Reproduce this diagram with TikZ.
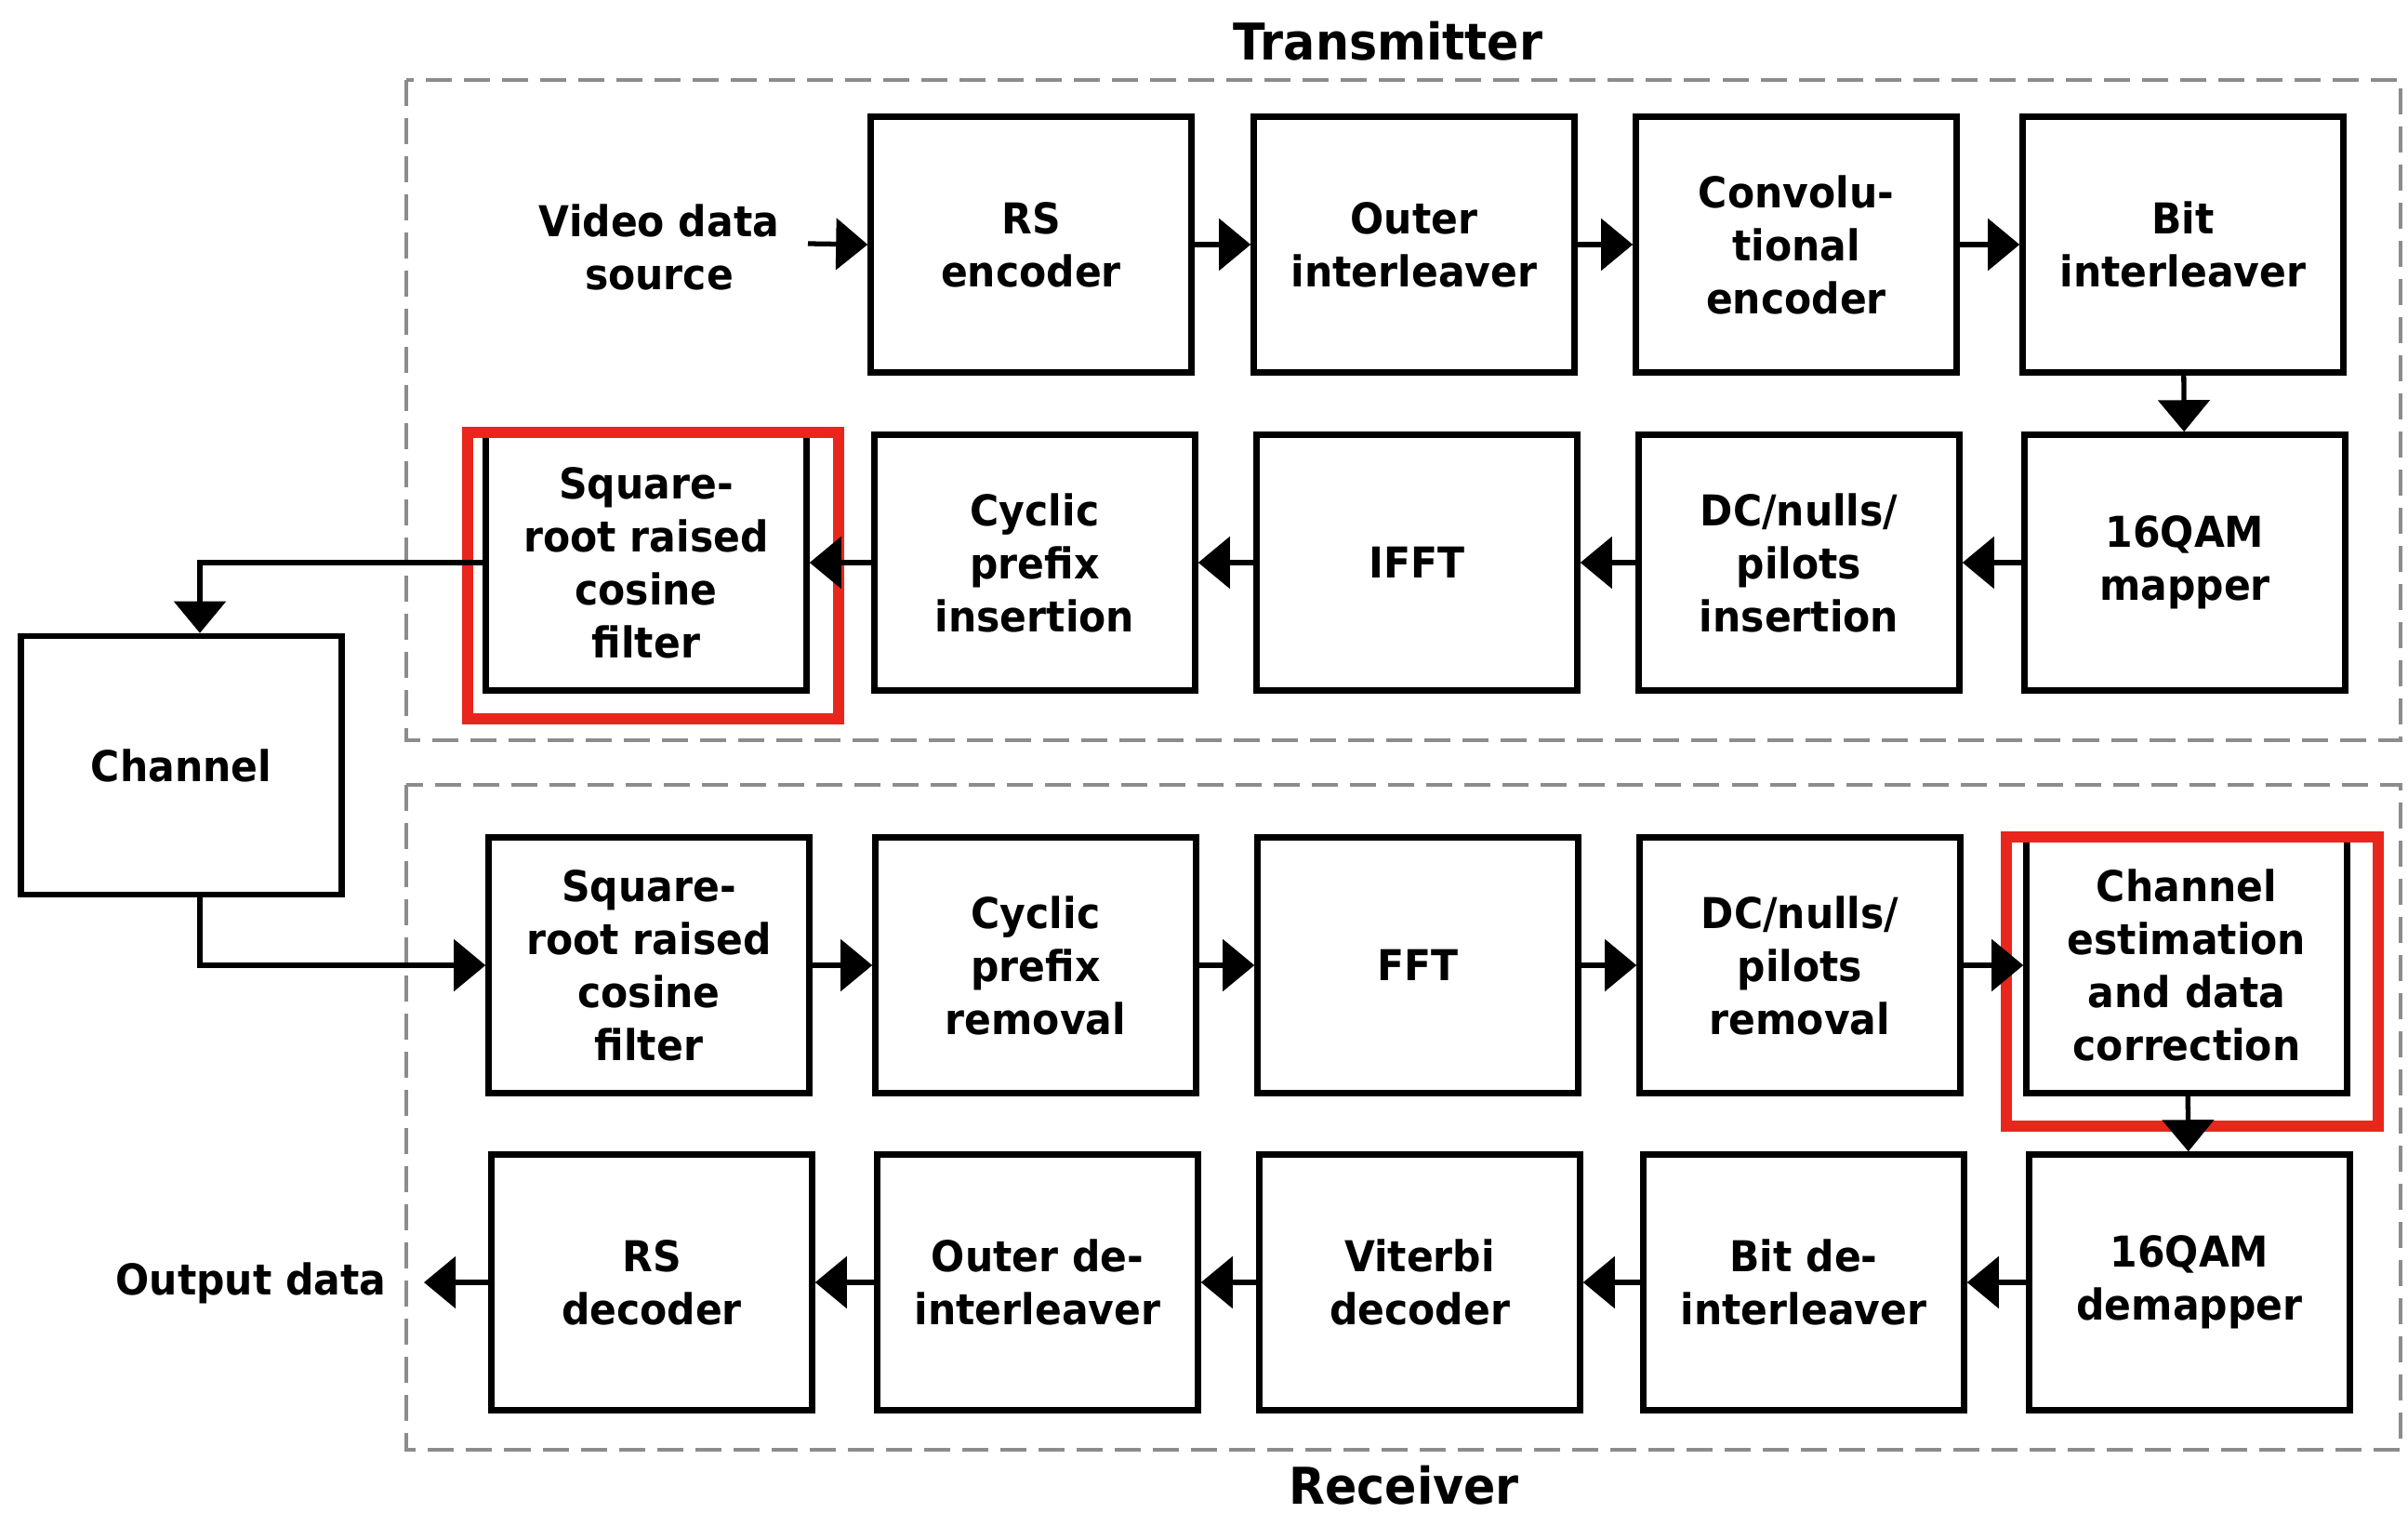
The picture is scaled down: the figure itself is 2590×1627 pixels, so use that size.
\documentclass[tikz,border=0pt]{standalone}
\usepackage{fontspec}
\setmainfont{DejaVu Sans}[FakeStretch=0.93]
\usetikzlibrary{arrows.meta}
\definecolor{redbox}{HTML}{E8261B}
\definecolor{dashgray}{HTML}{8C8C8C}
\tikzset{
  blk/.style={draw=black, line width=1.8pt, minimum width=3.45cm, minimum height=2.75cm,
    align=center, inner sep=0pt, font=\fontsize{13}{16.2}\selectfont\bfseries},
  lbl/.style={align=center, inner sep=0pt, font=\fontsize{13}{16.2}\selectfont\bfseries},
  ttl/.style={inner sep=0pt, font=\fontsize{15.5}{18}\selectfont\bfseries},
  arr/.style={line width=1.5pt, -{Triangle[length=0.34cm, width=0.55cm]}},
  grp/.style={draw=dashgray, line width=1.1pt, dash pattern=on 0.28cm off 0.13cm},
  hl/.style={draw=redbox, line width=3.4pt}
}
\begin{document}
\begin{tikzpicture}[x=0.01cm, y=-0.01cm]
\useasboundingbox (0,0) rectangle (2590,1627);
% group frames
\draw[grp] (437,86) rectangle (2582,796);
\draw[grp] (437,844) rectangle (2582,1559);
\node[ttl] (ttx) at (1493,44) {Transmitter};
\node[ttl] (trx) at (1510,1597) {Receiver};
% row 1
\node[lbl] (vid) at (709,266) {Video data\\source};
\coordinate (vidout) at (869,262);
\node[blk] (rsenc) at (1109,263) {RS\\encoder};
\node[blk] (outer) at (1521,263) {Outer\\interleaver};
\node[blk] (conv) at (1932,263) {Convolu-\\tional\\encoder};
\node[blk] (bitint) at (2348,263) {Bit\\interleaver};
% row 2
\node[blk] (srrc1) at (695,605) {Square-\\root raised\\cosine\\filter};
\node[blk] (cpi) at (1113,605) {Cyclic\\prefix\\insertion};
\node[blk] (ifft) at (1524,605) {IFFT};
\node[blk] (dci) at (1935,605) {DC/nulls/\\pilots\\insertion};
\node[blk] (qam) at (2350,605) {16QAM\\mapper};
% channel
\node[blk, minimum height=2.78cm] (chan) at (195,823) {Channel};
% row 3
\node[blk] (srrc2) at (698,1038) {Square-\\root raised\\cosine\\filter};
\node[blk] (cpr) at (1114,1038) {Cyclic\\prefix\\removal};
\node[blk] (fft) at (1525,1038) {FFT};
\node[blk] (dcr) at (1936,1038) {DC/nulls/\\pilots\\removal};
\node[blk] (che) at (2352,1038) {Channel\\estimation\\and data\\correction};
% row 4
\node[blk] (rsdec) at (701,1379) {RS\\decoder};
\node[blk] (odi) at (1116,1379) {Outer de-\\interleaver};
\node[blk] (vit) at (1527,1379) {Viterbi\\decoder};
\node[blk] (bdi) at (1940,1379) {Bit de-\\interleaver};
\node[blk] (dem) at (2355,1379) {16QAM\\demapper};
\node[lbl] (outd) at (270,1380) {Output data};
\coordinate (outend) at (456,1379);
% highlight frames
\draw[hl] (503,465) rectangle (902,773);
\draw[hl] (2158,900) rectangle (2558,1211);
% transmitter connectors
\draw[arr] (vidout) -- (rsenc.west);
\draw[arr] (rsenc) -- (outer);
\draw[arr] (outer) -- (conv);
\draw[arr] (conv) -- (bitint);
\draw[arr] (bitint) -- (qam);
\draw[arr] (qam) -- (dci);
\draw[arr] (dci) -- (ifft);
\draw[arr] (ifft) -- (cpi);
\draw[arr] (cpi) -- (srrc1);
\draw[arr] (srrc1.west) -| ([xshift=0.2cm]chan.north);
% receiver connectors
\draw[arr] ([xshift=0.2cm]chan.south) |- (srrc2.west);
\draw[arr] (srrc2) -- (cpr);
\draw[arr] (cpr) -- (fft);
\draw[arr] (fft) -- (dcr);
\draw[arr] (dcr) -- (che);
\draw[arr] (che) -- (dem);
\draw[arr] (dem) -- (bdi);
\draw[arr] (bdi) -- (vit);
\draw[arr] (vit) -- (odi);
\draw[arr] (odi) -- (rsdec);
\draw[arr] (rsdec.west) -- (outend);
\end{tikzpicture}
\end{document}
